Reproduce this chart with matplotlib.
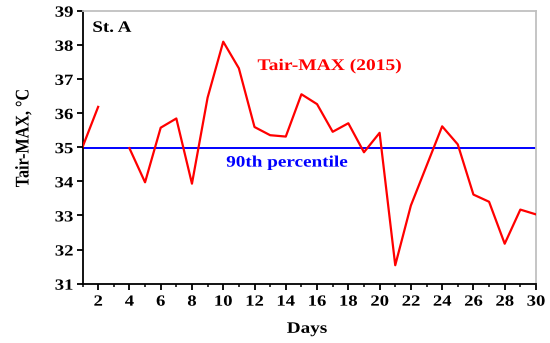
import numpy as np
import matplotlib
matplotlib.use("Agg")
import matplotlib.pyplot as plt
import matplotlib.patheffects as pe
from matplotlib.path import Path
from matplotlib.transforms import Affine2D
from matplotlib.ticker import MultipleLocator

days = np.arange(1, 31)
tmax = [35.0, 36.18, np.nan, 34.97, 33.97, 35.57, 35.84, 33.93, 36.45, 38.09,
        37.31, 35.59, 35.35, 35.31, 36.55, 36.26, 35.45, 35.70, 34.85, 35.42,
        31.54, 33.29, 34.45, 35.61, 35.08, 33.61, 33.40, 32.17, 33.17, 33.03]
p90 = 34.97
xticks = np.arange(2, 31, 2)


class Wide(pe.AbstractPathEffect):
    """widen glyphs horizontally (the source picture was stretched sideways)"""
    def __init__(self, sx=1.2, anchor="center"):
        super().__init__()
        self.sx, self.anchor = sx, anchor

    def draw_path(self, renderer, gc, tpath, affine, rgbFace=None):
        v = tpath.vertices
        if tpath.codes is not None:
            v = v[tpath.codes != Path.CLOSEPOLY]
        xs = affine.transform(v)[:, 0]
        cx = {"left": xs.min(), "right": xs.max()}.get(self.anchor, (xs.min() + xs.max()) / 2)
        aff = affine + Affine2D().translate(-cx, 0).scale(self.sx, 1).translate(cx, 0)
        renderer.draw_path(gc, tpath, aff, rgbFace)


plt.rcParams["font.family"] = ["Liberation Serif", "DejaVu Serif"]
plt.rcParams["font.weight"] = "bold"

fig = plt.figure(figsize=(5.5, 3.43), dpi=100)
ax = fig.add_axes([0.150, 0.173, 0.8245, 0.796])

ax.plot(days, tmax, color="#ff0000", lw=1.6, zorder=3)
ax.axhline(p90, color="#0000ff", lw=1.4, zorder=2)

ax.set_xlim(1, 30)
ax.set_ylim(31, 39)
ax.set_xticks(xticks)
ax.xaxis.set_minor_locator(MultipleLocator(1))
ax.yaxis.set_major_locator(MultipleLocator(1))
ax.tick_params(axis="both", which="major", direction="out", length=4.2, width=1.3,
               labelsize=11.2)
ax.tick_params(axis="x", which="major", pad=3)
ax.tick_params(axis="y", which="major", pad=2.5)
ax.tick_params(axis="x", which="minor", direction="out", length=2.3, width=1.1)

for s in ["left", "bottom"]:
    ax.spines[s].set_color("black")
    ax.spines[s].set_linewidth(1.3)
for s in ["top", "right"]:
    ax.spines[s].set_color("#c0c0c0")
    ax.spines[s].set_linewidth(1.3)

ax.set_xlabel("Days", fontsize=11.5, fontweight="bold", va="baseline")
ax.xaxis.set_label_coords(0.495, -0.180)
ax.set_ylabel("Tair-MAX, °C", fontsize=11.6, fontweight="bold", va="baseline")
ax.yaxis.set_label_coords(-0.121, 0.533)
ax.yaxis.label.set_path_effects([Wide(1.2, "center")])
ax.xaxis.label.set_path_effects([Wide(1.2, "center")])

t1 = ax.text(1.64, 38.38, "St. A", fontsize=11.4, fontweight="bold", color="black",
             va="baseline", ha="left")
t1.set_path_effects([Wide(1.2, "left")])
t2 = ax.text(16.8, 37.26, "Tair-MAX (2015)", fontsize=11.7, fontweight="bold",
             color="#ff0000", ha="center", va="baseline")
t2.set_path_effects([Wide(1.2, "center")])
t3 = ax.text(14.08, 34.43, "90th percentile", fontsize=11.5, fontweight="bold",
             color="#0000ff", ha="center", va="baseline")
t3.set_path_effects([Wide(1.2, "center")])

for lab in ax.get_xticklabels():
    lab.set_fontweight("bold")
    lab.set_path_effects([Wide(1.2, "center")])
for lab in ax.get_yticklabels():
    lab.set_fontweight("bold")
    lab.set_path_effects([Wide(1.2, "right")])

fig.savefig("out.png", dpi=100)
